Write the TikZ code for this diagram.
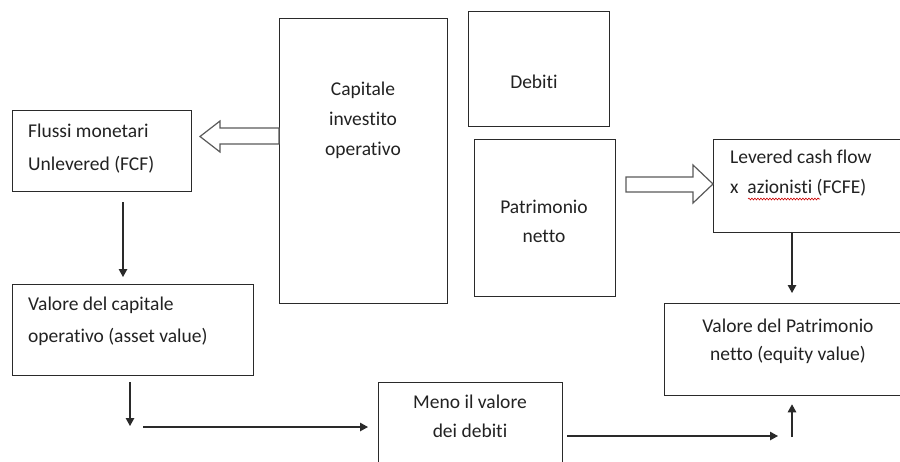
\documentclass[tikz,border=0pt]{standalone}
\usepackage{fontspec}
\setmainfont{Carlito}[Ligatures=NoCommon]
\usetikzlibrary{arrows.meta,decorations.pathmorphing,calc}
\definecolor{ink}{HTML}{2A2A2A}
\definecolor{txt}{HTML}{222222}
\definecolor{hollow}{HTML}{5A5A5A}
\begin{document}
\begin{tikzpicture}[x=1pt,y=-1pt,
  box/.style={draw=ink, line width=1.3pt, inner sep=0pt, anchor=north west},
  lw/.style={font=\fontsize{19.5}{30}\selectfont, text=txt, inner sep=0pt, anchor=base west},
  lc/.style={font=\fontsize{19.5}{30}\selectfont, text=txt, inner sep=0pt, anchor=base},
  arr/.style={draw=ink, line width=1.2pt, -{Triangle[length=8pt,width=8.5pt]}},
  fatarrow/.style={draw=hollow, line width=1.2pt, fill=white, line join=miter}]
\useasboundingbox (0,0) rectangle (900,461);
\fill[white] (0,0) rectangle (900,461);
\clip (0,0) rectangle (900,461);

% boxes
\node[box, minimum width=168pt, minimum height=285pt] (cap) at (279,18) {};
\node[box, minimum width=141pt, minimum height=115pt] (deb) at (468,11) {};
\node[box, minimum width=141pt, minimum height=157pt] (pat) at (474,139) {};
\node[box, minimum width=179pt, minimum height=81pt] (flu) at (12,110) {};
\node[box, minimum width=241pt, minimum height=91pt] (vcap) at (12,284) {};
\node[box, minimum width=190pt, minimum height=93pt] (lev) at (713,139) {};
\node[box, minimum width=239pt, minimum height=92pt] (vpat) at (664,303) {};
\node[box, minimum width=184pt, minimum height=90pt] (meno) at (378,382) {};

% texts
\node[lc] (capA) at (363,95) {Capitale};
\node[lc] (capB) at (363,125) {investito};
\node[lc] (capC) at (363,155) {operativo};
\node[lc] (debA) at (534,88) {Debiti};
\node[lc] (patA) at (544,213) {Patrimonio};
\node[lc] (patB) at (544,242) {netto};
\node[lw] (fluA) at (28,137) {Flussi monetari};
\node[lw] (fluB) at (28,170) {Unlevered (FCF)};
\node[lw] (vcapA) at (28,310) {Valore del capitale};
\node[lw] (vcapB) at (28,342) {operativo (asset value)};
\node[lw] (levA) at (730,163) {Levered cash flow};
\node[lw] (levB) at (730,193) {x\ \ azionisti (FCFE)};
\node[lc] (menoA) at (470,408) {Meno il valore};
\node[lc] (menoB) at (470,437) {dei debiti};
\node[lc] (vpatA) at (788,332) {Valore del Patrimonio};
\node[lc] (vpatB) at (788,360) {netto (equity value)};

% spell-check squiggle
\draw[red!80!black, line width=0.6pt, decorate, decoration={snake, amplitude=0.9pt, segment length=3pt}] (748,199) -- (820,199);

% hollow arrows
\draw[fatarrow] (cap.west |- 0,128) -- (220,128) -- (220,121) -- (200,136.5) -- (220,152) -- (220,144) -- (cap.west |- 0,144) -- cycle;
\draw[fatarrow] (626,177) -- (693,177) -- (693,165) -- (lev.west |- 0,184) -- (693,203) -- (693,192) -- (626,192) -- cycle;

% connectors
\coordinate (a0) at (123,202);
\draw[arr, shorten >=7pt] (a0) -- (a0 |- vcap.north);
\coordinate (b0) at (130,382);
\coordinate (b1) at (130,426);
\draw[arr] (b0) -- (b1);
\coordinate (h0) at (143,427);
\draw[arr, shorten >=10pt] (h0) -- (meno.west |- h0);
\coordinate (h1) at (567,436);
\coordinate (h2) at (778,436);
\draw[arr] (h1) -- (h2);
\coordinate (u0) at (792,437);
\draw[arr, shorten >=8pt] (u0) -- (u0 |- vpat.south);
\coordinate (l0) at (792,232);
\draw[arr, shorten >=10pt] (l0 |- lev.south) -- (l0 |- vpat.north);
\end{tikzpicture}
\end{document}
